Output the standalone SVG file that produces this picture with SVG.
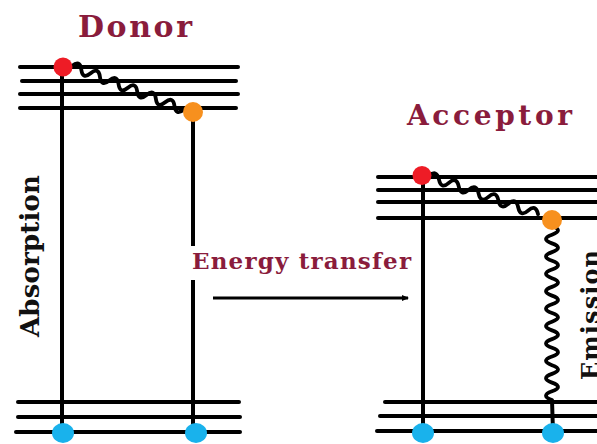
<svg xmlns="http://www.w3.org/2000/svg" width="597" height="444" viewBox="0 0 597 444">
<style>
.lvl{stroke:#000;stroke-width:4;stroke-linecap:round;fill:none}
.vl{stroke:#000;stroke-width:4;fill:none}
.wave{stroke:#000;stroke-width:3.8;fill:none;stroke-linecap:round}
.lbl{font-family:"DejaVu Serif","Liberation Serif",serif;font-weight:bold;fill:#8a1c3c}
.vlbl{font-family:"DejaVu Serif","Liberation Serif",serif;font-weight:bold;fill:#111}
.red{fill:#ee1c26}
.org{fill:#f7901e}
.blu{fill:#19b2ec}
</style>
<defs>
<marker id="ah" markerWidth="8" markerHeight="8" refX="6" refY="4" orient="auto" markerUnits="userSpaceOnUse">
<path d="M0,1 L7,4 L0,7 z" fill="#000"/>
</marker>
</defs>
<rect width="597" height="444" fill="#fff"/>

<g id="donor">
<text class="lbl" x="78" y="37" font-size="30" textLength="114" lengthAdjust="spacing">Donor</text>
<line class="lvl" x1="20" y1="67" x2="238" y2="67"/>
<line class="lvl" x1="22" y1="81" x2="236" y2="81"/>
<line class="lvl" x1="20" y1="94" x2="238" y2="94"/>
<line class="lvl" x1="20" y1="108" x2="236" y2="108"/>
<line class="lvl" x1="18" y1="402" x2="239" y2="402"/>
<line class="lvl" x1="18" y1="417" x2="240" y2="417"/>
<line class="lvl" x1="16" y1="432" x2="240" y2="432"/>
</g>

<g id="acceptor">
<text class="lbl" x="407" y="125" font-size="28" textLength="165" lengthAdjust="spacing">Acceptor</text>
<line class="lvl" x1="378" y1="177" x2="597" y2="177"/>
<line class="lvl" x1="378" y1="190" x2="597" y2="190"/>
<line class="lvl" x1="378" y1="202" x2="597" y2="202"/>
<line class="lvl" x1="378" y1="218" x2="597" y2="218"/>
<line class="lvl" x1="385" y1="402" x2="597" y2="402"/>
<line class="lvl" x1="380" y1="416" x2="597" y2="416"/>
<line class="lvl" x1="377" y1="431" x2="597" y2="431"/>
</g>

<g id="connectors">
<line class="vl" x1="62" y1="67" x2="62" y2="432"/>
<line class="vl" x1="193" y1="112" x2="193" y2="246"/>
<line class="vl" x1="193" y1="280" x2="193" y2="432"/>
<line class="vl" x1="423" y1="177" x2="423" y2="431"/>
<path class="wave" transform="translate(72,66) rotate(21.3)" d="M0,0 q5,-9 10,0 t10,0 t10,0 t10,0 t10,0 t10,0 t10,0 t10,0 t10,0 t10,0 t10,0 t10,0"/>
<path class="wave" transform="translate(429,176) rotate(19.3)" d="M0,0 q5,-9 10.5,0 t10.5,0 t10.5,0 t10.5,0 t10.5,0 t10.5,0 t10.5,0 t10.5,0 t10.5,0 t10.5,0 t10.5,0"/>
<path class="wave" transform="translate(552,226) rotate(90)" d="M0,0 q4.35,-12 8.7,0 t8.7,0 t8.7,0 t8.7,0 t8.7,0 t8.7,0 t8.7,0 t8.7,0 t8.7,0 t8.7,0 t8.7,0 t8.7,0 t8.7,0 t8.7,0 t8.7,0 t8.7,0 t8.7,0 t8.7,0 t8.7,0 t8.7,0"/>
<line class="vl" x1="552" y1="400" x2="553" y2="432"/>
<line x1="213" y1="298" x2="408" y2="298" stroke="#000" stroke-width="3" marker-end="url(#ah)"/>
</g>

<g id="labels">
<text class="lbl" x="192" y="269" font-size="23" textLength="219" lengthAdjust="spacing">Energy transfer</text>
<text class="vlbl" transform="translate(39,337) rotate(-90)" font-size="26" textLength="162" lengthAdjust="spacing">Absorption</text>
<text class="vlbl" transform="translate(599,380) rotate(-90)" font-size="24" textLength="130" lengthAdjust="spacing">Emission</text>
</g>

<g id="dots">
<circle class="red" cx="63" cy="67" r="9.5"/>
<circle class="org" cx="193" cy="112" r="10"/>
<circle class="red" cx="422" cy="175.5" r="9.5"/>
<circle class="org" cx="552" cy="220" r="10"/>
<ellipse class="blu" cx="63" cy="433" rx="11" ry="10"/>
<ellipse class="blu" cx="196" cy="433" rx="11" ry="10"/>
<ellipse class="blu" cx="423" cy="433" rx="11" ry="10"/>
<ellipse class="blu" cx="553" cy="433" rx="11" ry="10"/>
</g>
</svg>
